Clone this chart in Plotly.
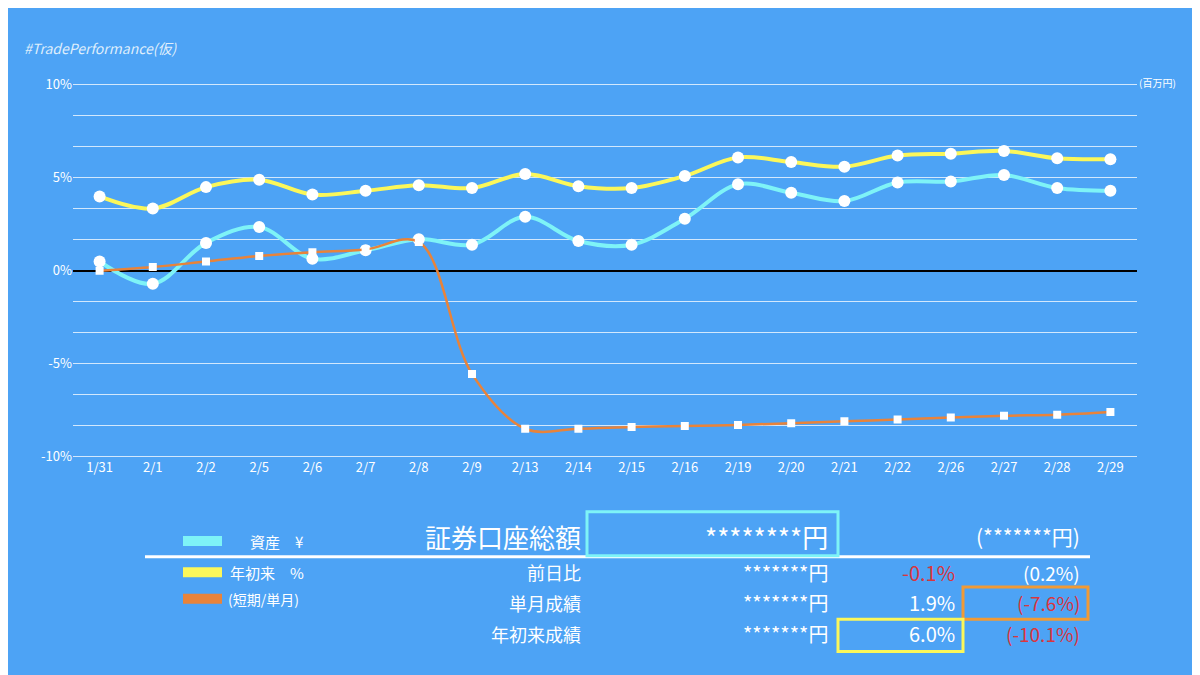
import plotly.graph_objects as go

dates = ["1/31", "2/1", "2/2", "2/5", "2/6", "2/7", "2/8", "2/9", "2/13", "2/14",
         "2/15", "2/16", "2/19", "2/20", "2/21", "2/22", "2/26", "2/27", "2/28", "2/29"]
ytd = [4.0, 3.35, 4.5, 4.9, 4.1, 4.3, 4.6, 4.45, 5.2, 4.55,
       4.45, 5.1, 6.1, 5.85, 5.6, 6.2, 6.3, 6.45, 6.05, 6.0]
asset = [0.5, -0.7, 1.5, 2.35, 0.65, 1.1, 1.7, 1.4, 2.9, 1.6,
         1.4, 2.8, 4.65, 4.2, 3.75, 4.75, 4.8, 5.15, 4.45, 4.3]
short = [0.0, 0.2, 0.5, 0.8, 1.0, 1.15, 1.55, -5.55, -8.5, -8.5,
         -8.4, -8.35, -8.3, -8.2, -8.1, -8.0, -7.9, -7.8, -7.75, -7.6]

grid_vals = [10 - i * 20 / 12 for i in range(13)]
grid_text = {10: "10%", 5: "5%", 0: "0%", -5: "-5%", -10: "-10%"}
tick_text = [grid_text.get(round(v, 6), "") for v in grid_vals]

BG = "#4da3f5"
RED = "#d9363e"
OFF = 8  # page body margin
W, H = 1200 - OFF, 675 - OFF
FONT = "Noto Sans CJK JP"

fig = go.Figure()

fig.add_trace(go.Scatter(x=dates, y=ytd, mode="lines+markers",
                         line=dict(color="#fbf75a", width=4, shape="spline"),
                         marker=dict(color="white", size=12)))
fig.add_trace(go.Scatter(x=dates, y=asset, mode="lines+markers",
                         line=dict(color="#7ef3f7", width=4, shape="spline"),
                         marker=dict(color="white", size=12)))
fig.add_trace(go.Scatter(x=dates, y=short, mode="lines+markers",
                         line=dict(color="#e8833a", width=2.5, shape="spline"),
                         marker=dict(color="white", size=8, symbol="square")))


def px(x, y):
    return (x - OFF) / W, 1 - (y - OFF) / H


annots = []


def text(x, y, s, size, color="white", anchor="right"):
    xx, yy = px(x, y)
    annots.append(dict(x=xx, y=yy, xref="paper", yref="paper", text=s, showarrow=False,
                       xanchor=anchor, yanchor="middle",
                       font=dict(size=size, color=color, family=FONT)))


shapes = []


def box(x0, y0, x1, y1, color, width=3):
    a, b = px(x0, y1)
    c, d = px(x1, y0)
    shapes.append(dict(type="rect", xref="paper", yref="paper", x0=a, y0=b, x1=c, y1=d,
                       line=dict(color=color, width=width)))


def hline(x0, x1, y, color, width):
    a, b = px(x0, y)
    c, _ = px(x1, y)
    shapes.append(dict(type="line", xref="paper", yref="paper", x0=a, y0=b, x1=c, y1=b,
                       line=dict(color=color, width=width)))


# title
tx, ty = px(22, 27)
annots.append(dict(x=tx, y=ty, xref="paper", yref="paper",
                   text="<i>#TradePerformance(仮)</i>", showarrow=False, xanchor="left",
                   font=dict(size=14, color="#dfeefc", family=FONT)))
text(1178, 75, "(百万円)", 10, anchor="right")

# legend
hline(183, 222, 545, "#7ef3f7", 10)
hline(183, 222, 577, "#fbf75a", 10)
hline(183, 222, 604, "#e8833a", 10)
text(248, 545, "資産　¥", 15, anchor="left")
text(228, 577, "年初来　%", 15, anchor="left")
text(226, 604, "(短期/単月)", 14, anchor="left")

# table
hline(145, 1090, 561, "white", 3)
text(583, 540, "証券口座総額", 26)
text(830, 540, "********円", 26)
text(1082, 540, "(*******円)", 21)
box(587, 515, 838, 560, "#7ef3f7")
rows = [("前日比", "-0.1%", RED, "(0.2%)", "white"),
        ("単月成績", "1.9%", "white", "(-7.6%)", RED),
        ("年初来成績", "6.0%", "white", "(-10.1%)", RED)]
for (lab, p1, c1, p2, c2), yy in zip(rows, [577, 608, 640]):
    text(583, yy, lab, 18)
    text(830, yy, "*******円", 20)
    text(957, yy, p1, 20, color=c1)
    text(1082, yy, p2, 19, color=c2)
box(963, 592, 1088, 625, "#f19a35")
box(838, 625, 963, 658, "#fbf75a")

x0, _ = px(73, 0)
x1, _ = px(1137, 0)
_, y0 = px(0, 459)
_, y1 = px(0, 77)
pad = 0.06 * 20 / 382 * 20
fig.update_layout(
    width=W, height=H, paper_bgcolor=BG, plot_bgcolor=BG,
    margin=dict(l=0, r=0, t=0, b=0), showlegend=False,
    font=dict(family=FONT, color="white"),
    annotations=annots, shapes=shapes,
    xaxis=dict(domain=[x0, x1], showgrid=False, tickfont=dict(size=13, color="white"),
               range=[-0.5, len(dates) - 0.5]),
    yaxis=dict(domain=[y0 - 0.002, y1 + 0.002], range=[-10.1, 10.1], tickvals=grid_vals,
               ticktext=tick_text, gridcolor="rgba(255,255,255,0.75)", gridwidth=1,
               zeroline=True, zerolinecolor="black", zerolinewidth=1.5,
               tickfont=dict(size=13, color="white")),
)

fig.write_html("out.html")
